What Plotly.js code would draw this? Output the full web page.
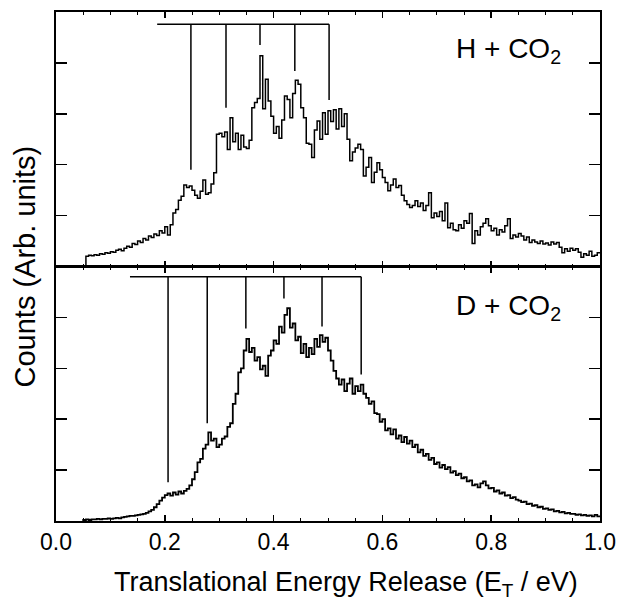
<!DOCTYPE html>
<html>
<head>
<meta charset="utf-8">
<script src="https://cdn.plot.ly/plotly-3.0.1.min.js"></script>
<style>html,body{margin:0;padding:0;background:#fff;}</style>
</head>
<body>
<div id="chart" style="width:618px;height:602px;"></div>
<script>
// ---- Data ----
// H + CO2 : counts per 0.005 eV bin, first bin starts at 0.055 eV
const hStart = 0.055;
const hBin = 0.005;
const hCounts = [
  0.20,0.22,0.21,0.23,0.22,0.25,0.24,0.27,0.26,0.29,
  0.28,0.32,0.34,0.31,0.36,0.40,0.38,0.45,0.43,0.50,
  0.47,0.55,0.52,0.60,0.57,0.64,0.61,0.70,0.66,0.78,
  0.62,0.82,1.05,1.12,1.30,1.38,1.60,1.55,1.58,1.50,
  1.40,1.34,1.48,1.70,1.42,1.45,1.62,1.84,2.60,2.62,
  2.55,2.64,2.30,2.92,2.45,2.62,2.30,2.58,2.35,2.32,
  2.48,3.12,3.22,3.30,4.14,3.10,3.68,3.25,2.95,2.62,
  2.75,2.52,2.88,3.35,3.28,2.92,3.40,3.66,3.58,3.12,
  2.92,2.42,2.40,2.14,2.68,2.86,2.50,3.02,2.60,3.06,
  2.85,3.08,2.70,3.10,2.75,3.00,2.50,2.08,2.25,2.33,
  2.40,2.30,1.78,1.95,2.14,1.65,1.85,2.04,1.90,1.75,
  1.65,1.49,1.60,1.72,1.55,1.59,1.40,1.29,1.22,1.16,
  1.20,1.29,1.18,1.25,1.10,1.20,1.45,0.96,1.05,0.98,
  1.08,0.90,1.25,0.76,0.85,0.72,0.70,0.82,0.75,0.90,
  0.85,1.04,0.45,0.70,0.62,0.78,0.85,0.94,0.80,0.70,
  0.75,0.62,0.72,0.68,0.80,0.94,0.55,0.62,0.58,0.65,
  0.60,0.52,0.58,0.47,0.52,0.48,0.45,0.50,0.44,0.46,
  0.42,0.48,0.44,0.47,0.38,0.27,0.35,0.30,0.36,0.32,
  0.35,0.28,0.18,0.25,0.22,0.30,0.20,0.22,0.27
];
// D + CO2 : counts per 0.005 eV bin, first bin starts at 0.050 eV
const dStart = 0.050;
const dBin = 0.005;
const dCounts = [
  0.02,0.03,0.02,0.03,0.03,0.04,0.03,0.04,0.04,0.05,
  0.04,0.05,0.06,0.05,0.07,0.08,0.09,0.10,0.10,0.11,
  0.12,0.13,0.14,0.16,0.19,0.22,0.27,0.33,0.40,0.46,
  0.51,0.54,0.50,0.56,0.52,0.58,0.54,0.59,0.63,0.70,
  0.82,0.96,1.15,1.22,1.42,1.50,1.74,1.58,1.62,1.45,
  1.50,1.62,1.66,1.85,1.92,2.30,2.50,2.92,3.00,3.35,
  3.58,3.32,3.40,3.15,3.22,2.98,3.05,2.85,3.25,3.35,
  3.55,3.48,3.82,3.70,4.05,4.18,3.80,3.88,3.55,3.62,
  3.30,3.48,3.22,3.40,3.28,3.58,3.42,3.65,3.52,3.60,
  3.35,3.15,2.95,2.80,2.68,2.78,2.55,2.70,2.80,2.50,
  2.65,2.55,2.68,2.50,2.42,2.30,2.35,2.12,2.10,1.95,
  2.00,1.78,1.82,1.70,1.80,1.62,1.68,1.55,1.65,1.52,
  1.58,1.45,1.50,1.35,1.40,1.28,1.32,1.20,1.24,1.12,
  1.15,1.05,1.10,1.02,1.06,0.95,0.98,0.90,0.93,0.84,
  0.86,0.78,0.80,0.70,0.72,0.66,0.74,0.78,0.70,0.64,
  0.65,0.58,0.60,0.54,0.56,0.50,0.51,0.45,0.47,0.42,
  0.40,0.37,0.38,0.33,0.34,0.30,0.31,0.27,0.28,0.24,
  0.25,0.22,0.23,0.19,0.20,0.17,0.18,0.15,0.16,0.14,
  0.14,0.12,0.13,0.11,0.12,0.10,0.11,0.09,0.12,0.09
];
// Vibrational progression combs
const hCombX = [0.248, 0.3125, 0.375, 0.439, 0.502];
const hCombBottom = [1.90, 3.12, 4.35, 3.84, 3.27];
const hCombBar = 4.76;
const hCombLeft = 0.186;
const dCombX = [0.206, 0.278, 0.349, 0.419, 0.489, 0.561];
const dCombBottom = [0.76, 1.92, 3.78, 4.37, 3.82, 2.88];
const dCombBar = 4.80;
const dCombLeft = 0.136;
const xTickVals = [0.0, 0.2, 0.4, 0.6, 0.8, 1.0];
const xTickText = ["0.0", "0.2", "0.4", "0.6", "0.8", "1.0"];
const labelH = "H + CO<sub>2</sub>";
const labelD = "D + CO<sub>2</sub>";
const xTitle = "Translational Energy Release (E<sub>T</sub> / eV)";
const yTitle = "Counts (Arb. units)";

// ---- Build step traces ----
function stepXY(start, bin, counts) {
  const x = [start], y = [0];
  counts.forEach((c, i) => { x.push(start + i * bin); y.push(c); });
  x.push(start + counts.length * bin); y.push(counts[counts.length - 1]);
  return {x, y};
}
function combXY(xs, bottoms, bar, left) {
  const x = [left, xs[xs.length - 1]], y = [bar, bar];
  xs.forEach((xv, i) => { x.push(null, xv, xv); y.push(null, bar, bottoms[i]); });
  return {x, y};
}
const hs = stepXY(hStart, hBin, hCounts);
const ds = stepXY(dStart, dBin, dCounts);
const hc = combXY(hCombX, hCombBottom, hCombBar, hCombLeft);
const dc = combXY(dCombX, dCombBottom, dCombBar, dCombLeft);

const traces = [
  {x: hs.x, y: hs.y, xaxis: 'x2', yaxis: 'y2', mode: 'lines', line: {shape: 'hv', color: '#000', width: 1.5}, hoverinfo: 'skip'},
  {x: hc.x, y: hc.y, xaxis: 'x2', yaxis: 'y2', mode: 'lines', line: {color: '#000', width: 1.5}, connectgaps: false, hoverinfo: 'skip'},
  {x: ds.x, y: ds.y, xaxis: 'x', yaxis: 'y', mode: 'lines', line: {shape: 'hv', color: '#000', width: 1.8}, hoverinfo: 'skip'},
  {x: dc.x, y: dc.y, xaxis: 'x', yaxis: 'y', mode: 'lines', line: {color: '#000', width: 1.5}, connectgaps: false, hoverinfo: 'skip'}
];

const font = 'Liberation Sans, Arial, Helvetica, sans-serif';
const xCommon = {
  range: [0, 1], tickvals: xTickVals, ticktext: xTickText,
  ticks: 'inside', ticklen: 6, tickwidth: 1.5, tickcolor: '#000',
  minor: {dtick: 0.05, tick0: 0, ticks: 'inside', ticklen: 3, tickwidth: 1, tickcolor: '#000'},
  showline: true, linecolor: '#000', linewidth: 1.6, mirror: 'ticks',
  showgrid: false, zeroline: false
};
const yCommon = {
  range: [0, 5], dtick: 1, tick0: 0, ticks: 'inside', ticklen: 11, tickwidth: 1.5, tickcolor: '#000',
  showticklabels: false, showline: true, linecolor: '#000', linewidth: 1.8, mirror: 'ticks',
  showgrid: false, zeroline: false
};

const layout = {
  width: 618, height: 602,
  margin: {l: 56, r: 18, t: 12, b: 81},
  paper_bgcolor: '#fff', plot_bgcolor: '#fff',
  showlegend: false,
  font: {family: font, color: '#000'},
  xaxis: Object.assign({}, xCommon, {anchor: 'y', ticklabelstandoff: 0, tickfont: {size: 23, family: font, color: '#000'}}),
  xaxis2: Object.assign({}, xCommon, {anchor: 'y2', matches: 'x', showticklabels: false}),
  yaxis: Object.assign({}, yCommon, {domain: [0, 0.5], anchor: 'x'}),
  yaxis2: Object.assign({}, yCommon, {domain: [0.5, 1], anchor: 'x2'}),
  annotations: [
    {text: labelH, xref: 'x2', yref: 'y2', x: 0.831, y: 4.24, showarrow: false, xanchor: 'center', yanchor: 'middle', font: {size: 28, family: font, color: '#000'}},
    {text: labelD, xref: 'x', yref: 'y', x: 0.831, y: 4.20, showarrow: false, xanchor: 'center', yanchor: 'middle', font: {size: 28, family: font, color: '#000'}},
    {text: xTitle, xref: 'paper', yref: 'paper', x: 0.533, y: -0.124, showarrow: false, xanchor: 'center', yanchor: 'middle', font: {size: 27, family: font, color: '#000'}},
    {text: yTitle, xref: 'paper', yref: 'paper', x: -0.057, y: 0.5, showarrow: false, textangle: -90, xanchor: 'center', yanchor: 'middle', font: {size: 29, family: font, color: '#000'}}
  ]
};

Plotly.newPlot('chart', traces, layout, {staticPlot: true, displayModeBar: false});
</script>
</body>
</html>
